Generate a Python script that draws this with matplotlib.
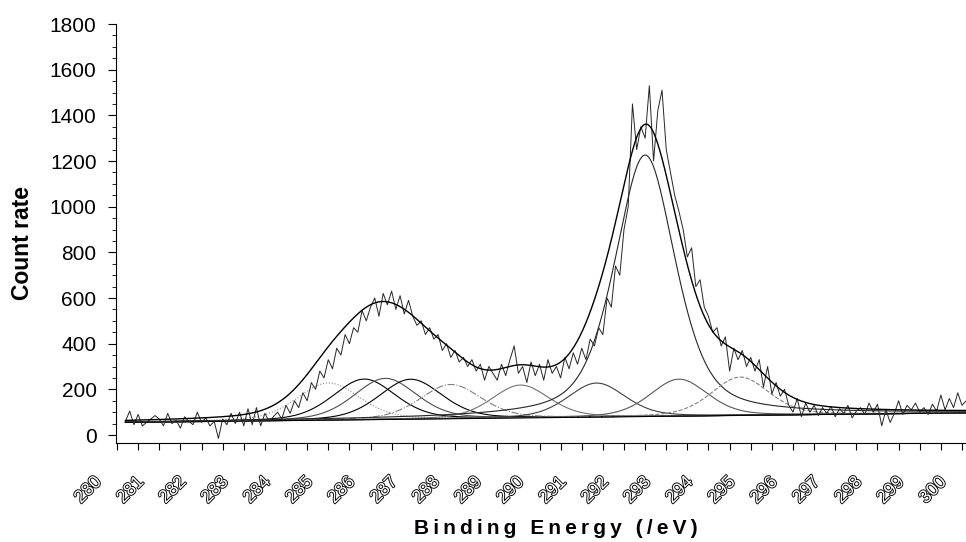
import numpy as np
import matplotlib.pyplot as plt
import matplotlib.transforms as mtransforms
from matplotlib import patheffects
from matplotlib.ticker import MultipleLocator

plt.rcParams['font.family'] = ['Liberation Sans', 'DejaVu Sans']

# raw spectrum, 0.1 eV steps starting at 280.2 eV
energy_start = 280.2
energy_step = 0.1
counts = [
    60, 105, 45, 90, 40, 55, 70, 85,
    70, 40, 95, 50, 65, 30, 80, 60, 45, 100,
    55, 75, 40, 60, -15, 70, 45, 95, 50, 100,
    40, 115, 45, 120, 40, 95, 60, 80, 100, 70,
    130, 95, 150, 120, 185, 150, 230, 200, 280, 250,
    330, 290, 380, 350, 440, 400, 470, 450, 545, 500,
    560, 600, 520, 620, 570, 630, 550, 610, 530, 590,
    520, 480, 500, 440, 470, 420, 440, 370, 400, 340,
    370, 320, 340, 300, 330, 280, 310, 240, 300, 270,
    240, 310, 260, 330, 390, 270, 300, 230, 320, 260,
    310, 240, 330, 270, 300, 250, 340, 290, 360, 310,
    380, 330, 420, 390, 470, 440, 600, 560, 740, 700,
    900, 1000, 1450, 1250, 1350, 1300, 1530, 1200, 1420, 1510,
    1250, 1150, 1050, 980, 900, 780, 820, 650, 680, 560,
    520, 450, 470, 390, 430, 280, 380, 330, 370, 300,
    340, 280, 330, 210, 300, 180, 230, 170, 200, 130,
    100, 160, 80, 140, 100, 130, 85, 120, 95, 125,
    80, 115, 95, 130, 75, 105, 120, 90, 140, 100,
    135, 40, 110, 55, 95, 150, 90, 130, 110, 140,
    100, 120, 90, 135, 105, 175, 110, 160, 120, 185, 130, 150,
]

# linear background (end points)
baseline_x = [280.2, 300.1]
baseline_y = [55, 97]

# fitted components: centre (eV), height above background, FWHM (eV), Lorentz fraction
peak_centres = [285.0, 285.85, 286.35, 286.95, 287.9, 289.55, 291.35, 292.5, 293.3, 294.75]
peak_heights = [163, 178, 180, 175, 150, 144, 149, 1145, 162, 168]
peak_fwhm = [1.75, 1.75, 1.75, 1.75, 1.7, 1.6, 1.6, 1.7, 1.6, 1.6]
peak_mix = [0.3, 0.3, 0.3, 0.3, 0.3, 0.3, 0.3, 0.5, 0.3, 0.3]


def pseudo_voigt(x, c, h, w, m):
    g = np.exp(-4 * np.log(2) * ((x - c) / w) ** 2)
    lo = 1 / (1 + 4 * ((x - c) / w) ** 2)
    return h * ((1 - m) * g + m * lo)


def background(x):
    slope = (baseline_y[1] - baseline_y[0]) / (baseline_x[1] - baseline_x[0])
    return baseline_y[0] + slope * (x - baseline_x[0])


energy = energy_start + energy_step * np.arange(len(counts))
xf = np.linspace(baseline_x[0], baseline_x[1], 1200)

fig = plt.figure(figsize=(9.66, 5.42), dpi=100)
ax = fig.add_axes([116 / 966, 1 - 443 / 542, 850 / 966, (443 - 24) / 542])

styles = [('0.55', ':'), ('black', '-'), ('0.3', '-'), ('black', '-'), ('0.5', '-.'),
          ('0.45', '-'), ('0.25', '-'), ('0.15', '-'), ('0.35', '-'), ('0.5', '--')]
envelope = background(xf)
for (c, h, w, m), (col, ls) in zip(zip(peak_centres, peak_heights, peak_fwhm, peak_mix), styles):
    comp = pseudo_voigt(xf, c, h, w, m)
    envelope = envelope + comp
    ax.plot(xf, background(xf) + comp, color=col, ls=ls, lw=0.8)

ax.plot(baseline_x, baseline_y, color='black', lw=0.8)
ax.plot(energy, counts, color='0.15', lw=0.7)
ax.plot(xf, envelope, color='black', lw=1.0)

ax.set_xlim(279.976, 300.095)
ax.set_ylim(-35, 1800)
ax.spines['top'].set_visible(False)
ax.spines['right'].set_visible(False)
for s in ('left', 'bottom'):
    ax.spines[s].set_linewidth(0.8)

ax.xaxis.set_major_locator(MultipleLocator(1))
ax.xaxis.set_minor_locator(MultipleLocator(0.5))
ax.yaxis.set_major_locator(MultipleLocator(200))
ax.yaxis.set_minor_locator(MultipleLocator(50))
ax.tick_params(axis='x', which='both', direction='out', length=5, width=0.8, pad=17, labelsize=13)
ax.tick_params(axis='y', which='major', direction='out', length=6, width=0.8, pad=8, labelsize=15)
ax.tick_params(axis='y', which='minor', direction='out', length=3, width=0.6)

offset = mtransforms.ScaledTranslation(-12 / 100, 0, fig.dpi_scale_trans)
for lab in ax.get_xticklabels():
    lab.set_rotation(45)
    lab.set_ha('right')
    lab.set_va('top')
    lab.set_color('white')
    lab.set_path_effects([patheffects.withStroke(linewidth=1.3, foreground='black')])
    lab.set_transform(lab.get_transform() + offset)

fig.text(23 / 966, 1 - 243 / 542, 'Count rate', rotation=90, fontsize=16.5,
         fontweight='bold', ha='center', va='center')
fig.text(556 / 966, 1 - 528 / 542, '\u2009'.join('Binding Energy (/eV)'), fontsize=15,
         fontweight='bold', ha='center', va='center')

fig.savefig('out.png', dpi=100)
